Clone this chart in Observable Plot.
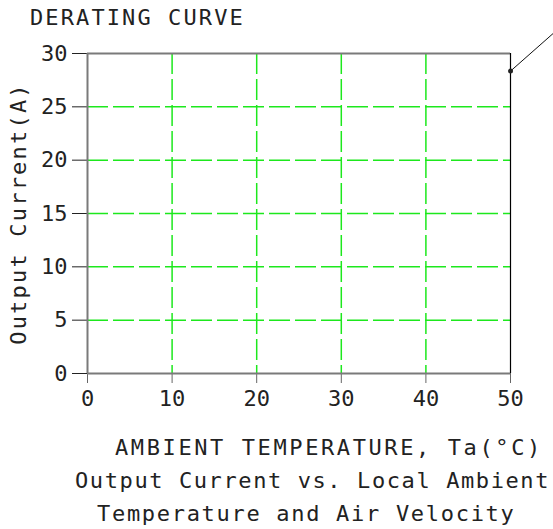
<!DOCTYPE html>
<html><head><meta charset="utf-8">
<script src="https://cdn.jsdelivr.net/npm/d3@7"></script>
<script src="https://cdn.jsdelivr.net/npm/@observablehq/plot@0.6"></script>
<style>
body{margin:0;background:#fff;}
#wrap{position:relative;width:553px;height:529px;overflow:hidden;font-family:"DejaVu Sans Mono",monospace;color:#222;}
.t{position:absolute;white-space:nowrap;font-size:22px;line-height:22px;}
#wrap svg{position:absolute;left:0;top:40px;}
</style></head><body><div id="wrap"></div>
<script>
const title = "DERATING CURVE";
const xLabel = "AMBIENT TEMPERATURE, Ta(°C)";
const yLabel = "Output Current(A)";
const captionLines = ["Output Current vs. Local Ambient", "Temperature and Air Velocity"];
const xTicks = [0, 10, 20, 30, 40, 50];
const yTicks = [0, 5, 10, 15, 20, 25, 30];
const xGrid = [10, 20, 30, 40];
const yGrid = [5, 10, 15, 20, 25];
const xDomain = [0, 50];
const yDomain = [0, 30];
const leaderT = [50, 56];
const leaderA = [28.35, 32.55];

const leader = leaderT.map((t, i) => ({t, a: leaderA[i]}));
const green = "#1de81d";
const grayLine = "#7a7a7a";

const chart = Plot.plot({
  width: 553, height: 385,
  marginLeft: 87, marginRight: 43, marginTop: 13, marginBottom: 52,
  x: {domain: xDomain},
  y: {domain: yDomain},
  style: {fontFamily: "DejaVu Sans Mono", fontSize: "22px", background: "transparent", overflow: "visible", color: "#222"},
  marks: [
    Plot.ruleY(yGrid, {stroke: green, strokeWidth: 1.5, strokeDasharray: "21,5"}),
    Plot.ruleX(xGrid, {stroke: green, strokeWidth: 1.5, strokeDasharray: "21,5"}),
    Plot.ruleY([yDomain[1]], {stroke: grayLine, strokeWidth: 2}),
    Plot.ruleX([xDomain[1]], {stroke: "#000", strokeWidth: 1.2}),
    Plot.axisY(yTicks, {tickSize: 15, tickPadding: 5, fontSize: 22, stroke: "#222", label: yLabel, labelAnchor: "center", labelOffset: 77, labelArrow: "none"}),
    Plot.axisX(xTicks, {tickSize: 10, tickPadding: 7, fontSize: 22, stroke: "#666", label: null}),
    Plot.ruleX([xDomain[0]], {stroke: grayLine, strokeWidth: 2}),
    Plot.ruleY([yDomain[0]], {stroke: grayLine, strokeWidth: 2}),
    Plot.line(leader, {x: "t", y: "a", stroke: "#111", strokeWidth: 1}),
    Plot.dot(leader.slice(0, 1), {x: "t", y: "a", r: 2.5, fill: "#222"})
  ]
});

chart.querySelectorAll('[aria-label="y-axis label"] text').forEach(t => t.setAttribute("letter-spacing", "2.2"));

const wrap = document.getElementById("wrap");
function addText(str, left, top, ls) {
  const d = document.createElement("div");
  d.className = "t";
  d.textContent = str;
  d.style.left = left + "px";
  d.style.top = top + "px";
  d.style.letterSpacing = ls + "px";
  wrap.appendChild(d);
}
addText(title, 30, 7.4, 2.1);
wrap.appendChild(chart);
addText(xLabel, 115, 437.4, 2.6);
addText(captionLines[0], 75, 470, 1.6);
addText(captionLines[1], 97, 502.5, 1.7);
</script>
</body></html>
